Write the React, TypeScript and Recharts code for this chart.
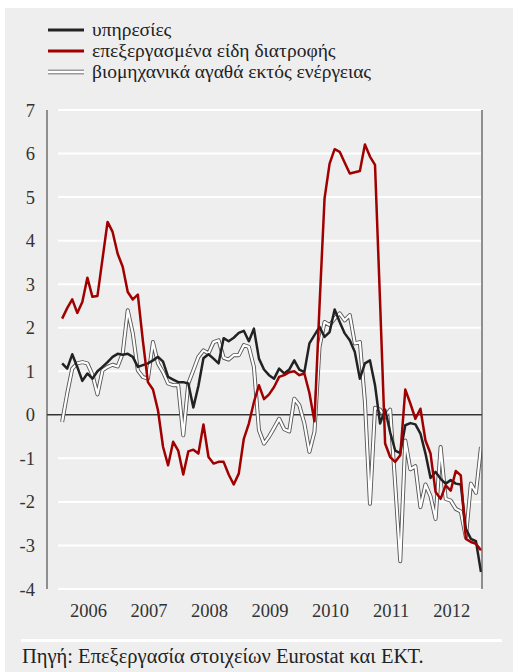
import React from 'react';
import { LineChart, Line, XAxis, YAxis, CartesianGrid, ReferenceLine } from 'recharts';

const FONT = '"Liberation Serif", "Times New Roman", serif';

const yearLabels = ['2006', '2007', '2008', '2009', '2010', '2011', '2012'];

// υπηρεσίες (monthly, Jan 2006 - Dec 2012)
const services = [
  1.18, 1.06, 1.39, 1.1, 0.78, 0.95, 0.83, 1.0, 1.1, 1.21, 1.33, 1.4,
  1.38, 1.4, 1.33, 1.1, 1.14, 1.18, 1.25, 1.33, 1.22, 0.87, 0.81, 0.75,
  0.75, 0.72, 0.17, 0.66, 1.3, 1.39, 1.29, 1.18, 1.76, 1.69, 1.77, 1.88,
  1.93, 1.69, 1.98, 1.29, 1.04, 0.91, 0.83, 1.06, 0.95, 1.04, 1.25, 1.04,
  0.98, 1.64, 1.83, 2.02, 1.79, 1.9, 2.42, 2.13, 1.87, 1.71, 1.44, 0.83,
  1.18, 1.25, 0.68, -0.2, 0.12, -0.4, -0.82, -0.88, -0.24, -0.19, -0.22, -0.43,
  -0.89, -1.45, -1.31, -1.47, -1.58, -1.5, -1.58, -1.6, -2.62, -2.85, -2.9, -3.61,
];

// επεξεργασμένα είδη διατροφής
const processedFood = [
  2.21, 2.45, 2.65, 2.34, 2.59, 3.15, 2.71, 2.73, 3.58, 4.43, 4.2, 3.7,
  3.4, 2.82, 2.65, 2.76, 1.7, 0.75, 0.58, 0.1, -0.74, -1.16, -0.62, -0.82,
  -1.37, -0.84, -0.8, -0.89, -0.22, -0.97, -1.12, -1.08, -1.08, -1.37, -1.6, -1.35,
  -0.55, -0.2, 0.29, 0.68, 0.36, 0.47, 0.64, 0.87, 0.91, 0.98, 1.0, 0.91,
  0.95, 0.5, -0.15, 2.5, 4.97, 5.77, 6.1, 6.04, 5.79, 5.54, 5.57, 5.6,
  6.21, 5.93, 5.74, 2.6, -0.66, -0.97, -1.08, -0.93, 0.58, 0.26, -0.09, 0.14,
  -0.59, -0.89, -1.77, -1.93, -1.62, -1.74, -1.29, -1.39, -2.85, -2.92, -2.96, -3.11,
];

// βιομηχανικά αγαθά εκτός ενέργειας
const industrialGoods = [
  -0.16, 0.49, 1.06, 1.18, 1.21, 1.18, 0.92, 0.47, 1.02, 1.1, 1.15, 1.11,
  1.41, 2.4, 1.87, 1.02, 0.87, 0.83, 1.67, 1.18, 0.98, 0.72, 0.68, 0.68,
  -0.47, 0.72, 1.02, 1.33, 1.48, 1.41, 1.67, 1.71, 1.31, 1.27, 1.37, 1.37,
  1.6, 1.56, 1.1, -0.35, -0.66, -0.5, -0.3, -0.09, -0.33, -0.38, 0.37, 0.22,
  -0.2, -0.85, -0.39, 1.56, 2.13, 2.06, 2.21, 2.33, 2.17, 2.29, 1.64, 1.67,
  0.3, -2.04, 0.16, 0.12, -0.05, 0.12, -1.6, -3.36, -0.59, -1.25, -1.18, -2.12,
  -1.6, -1.87, -2.39, -0.74, -1.93, -1.97, -2.16, -2.22, -2.81, -1.58, -1.79, -0.74,
];

const yTicks = [-4, -3, -2, -1, 0, 1, 2, 3, 4, 5, 6, 7];

const data = services.map((v, i) => ({
  i,
  svc: v,
  food: processedFood[i],
  ind: industrialGoods[i],
}));

const X_MIN = -3;
const X_MAX = 83.2;
const firstBoundary = -0.8;
const boundaryTicks = [X_MIN, ...yearLabels.map((_, k) => firstBoundary + k * 12), X_MAX];
const labelTicks = yearLabels.map((_, k) => firstBoundary + 6 + k * 12);

const tickStyle = { fill: '#333', fontSize: 18.5, fontFamily: FONT, style: { fontFamily: FONT } };

const LegendRow = ({ top, kind, label }: { top: number; kind: string; label: string }) => (
  <div style={{ position: 'absolute', left: 48, top: top - 12, height: 24, display: 'flex', alignItems: 'center' }}>
    <svg width={36} height={8} style={{ display: 'block' }}>
      {kind === 'white' ? (
        <>
          <line x1={0} x2={36} y1={4} y2={4} stroke="#999" strokeWidth={5} />
          <line x1={0} x2={36} y1={4} y2={4} stroke="#fff" strokeWidth={2} />
        </>
      ) : (
        <line x1={0} x2={36} y1={4} y2={4} stroke={kind === 'red' ? '#a00000' : '#222'} strokeWidth={3} />
      )}
    </svg>
    <span style={{ marginLeft: 8, fontFamily: FONT, fontSize: 19.5, color: '#222', whiteSpace: 'nowrap', lineHeight: '24px' }}>{label}</span>
  </div>
);

export default function App() {
  return (
    <div style={{ position: 'absolute', left: 0, top: 0, width: 513, height: 672, fontFamily: FONT }}>
      <div style={{ position: 'absolute', left: 5, top: 8, width: 508, height: 664, background: '#eeeeee' }} />
      <LegendRow top={30} kind="black" label="υπηρεσίες" />
      <LegendRow top={51} kind="red" label="επεξεργασμένα είδη διατροφής" />
      <LegendRow top={72} kind="white" label="βιομηχανικά αγαθά εκτός ενέργειας" />
      <div style={{ position: 'absolute', left: 0, top: 0, fontFamily: FONT }}>
        <LineChart width={513} height={640} data={data} margin={{ top: 110, right: 0, bottom: 16, left: 12 }} style={{ fontFamily: FONT }}>
          <CartesianGrid xAxisId="b" yAxisId="l" horizontal={false} stroke="#ffffff" strokeWidth={2} />
          {yTicks.map((v) => (
            <ReferenceLine
              key={'g' + v}
              xAxisId="b"
              yAxisId="l"
              segment={[{ x: firstBoundary, y: v }, { x: X_MAX, y: v }]}
              stroke="#ffffff"
              strokeWidth={2}
            />
          ))}
          <XAxis
            xAxisId="b"
            type="number"
            dataKey="i"
            domain={[X_MIN, X_MAX]}
            ticks={boundaryTicks}
            allowDataOverflow
            interval={0}
            tick={false}
            axisLine={false}
            tickLine={{ stroke: '#333', strokeWidth: 1 }}
            tickSize={8}
            height={10}
          />
          <XAxis
            xAxisId="y"
            type="number"
            dataKey="i"
            domain={[X_MIN, X_MAX]}
            ticks={labelTicks}
            allowDataOverflow
            interval={0}
            tickFormatter={(v: number) => yearLabels[Math.round((v - firstBoundary - 6) / 12)] ?? ''}
            axisLine={false}
            tickLine={false}
            tickSize={0}
            tickMargin={5}
            height={25}
            tick={tickStyle}
          />
          <YAxis
            yAxisId="l"
            domain={[-4, 7]}
            ticks={yTicks}
            interval={0}
            axisLine={{ stroke: '#444', strokeWidth: 1.2 }}
            tickLine={false}
            tickSize={0}
            tickMargin={12}
            width={35}
            tick={tickStyle}
          />
          <YAxis
            yAxisId="r"
            orientation="right"
            domain={[-4, 7]}
            ticks={yTicks}
            interval={0}
            axisLine={{ stroke: '#444', strokeWidth: 1.2 }}
            tickLine={false}
            tickSize={0}
            tickMargin={10}
            width={31}
            tick={tickStyle}
          />
          <ReferenceLine xAxisId="b" yAxisId="l" y={0} stroke="#333" strokeWidth={1.5} />
          <Line xAxisId="b" yAxisId="l" type="linear" dataKey="ind" stroke="#555" strokeWidth={4} dot={false} strokeLinejoin="round" isAnimationActive={false} />
          <Line xAxisId="b" yAxisId="l" type="linear" dataKey="ind" stroke="#ffffff" strokeWidth={2.2} dot={false} strokeLinejoin="round" isAnimationActive={false} />
          <Line xAxisId="b" yAxisId="l" type="linear" dataKey="svc" stroke="#222" strokeWidth={2.5} dot={false} strokeLinejoin="round" isAnimationActive={false} />
          <Line xAxisId="b" yAxisId="l" type="linear" dataKey="food" stroke="#a00000" strokeWidth={2.5} dot={false} strokeLinejoin="round" isAnimationActive={false} />
        </LineChart>
      </div>
      <div style={{ position: 'absolute', left: 21, top: 639, width: 481, height: 3, background: '#ffffff' }} />
      <div style={{ position: 'absolute', left: 22, top: 645, fontFamily: FONT, fontSize: 20.5, color: '#222', whiteSpace: 'nowrap' }}>
        Πηγή: Επεξεργασία στοιχείων Eurostat και ΕΚΤ.
      </div>
    </div>
  );
}
